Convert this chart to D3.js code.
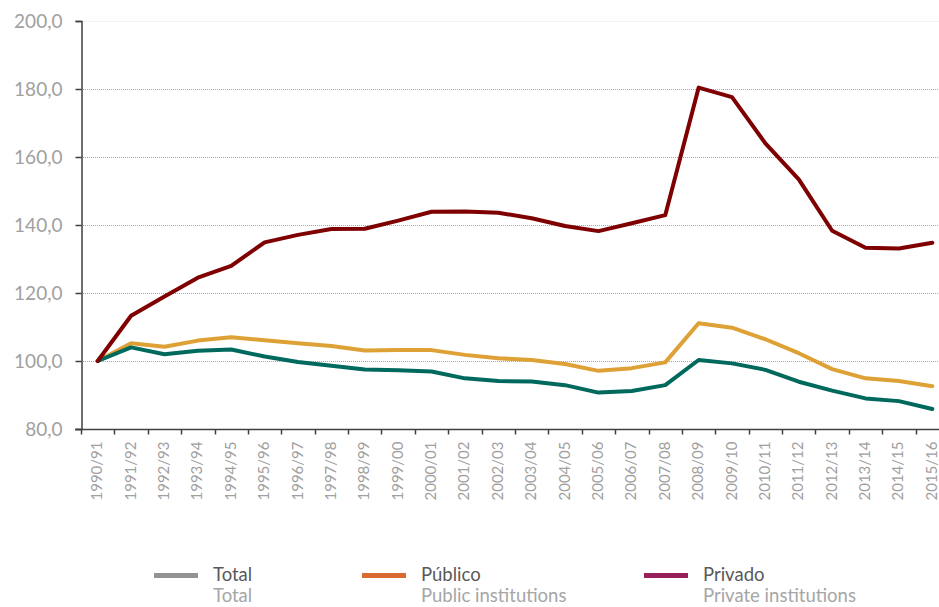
<!DOCTYPE html>
<html>
<head>
<meta charset="utf-8">
<script src="https://cdn.jsdelivr.net/npm/d3@7"></script>
<style>
  html, body { margin: 0; padding: 0; background: #fff; }
  svg { display: block; font-family: Lato, "Open Sans", sans-serif; }
</style>
</head>
<body>
<svg id="chart" width="939" height="607"></svg>
<script>
const categories = ["1990/91","1991/92","1992/93","1993/94","1994/95","1995/96","1996/97","1997/98","1998/99","1999/00","2000/01","2001/02","2002/03","2003/04","2004/05","2005/06","2006/07","2007/08","2008/09","2009/10","2010/11","2011/12","2012/13","2013/14","2014/15","2015/16"];
const totalValues   = [100.0,104.0,102.0,103.0,103.4,101.3,99.7,98.6,97.5,97.3,96.9,94.9,94.1,94.0,92.9,90.7,91.2,92.9,100.3,99.3,97.4,93.9,91.3,89.0,88.2,85.9];
const publicoValues = [100.0,105.2,104.2,106.0,107.0,106.1,105.2,104.4,103.1,103.2,103.2,101.8,100.8,100.3,99.1,97.1,97.9,99.6,111.1,109.8,106.4,102.3,97.6,94.9,94.1,92.6];
const privadoValues = [100.0,113.3,119.0,124.5,128.0,134.9,137.1,138.8,138.9,141.3,143.9,144.0,143.6,142.0,139.7,138.2,140.5,142.9,180.4,177.6,164.0,153.4,138.3,133.3,133.1,134.8];
const yTicks = [80,100,120,140,160,180,200];
const gridTicks = [100,120,140,160,180];

const legendItems = [
  {name: "Total",   sub: "Total",                swatch: "#939393"},
  {name: "Público", sub: "Public institutions",  swatch: "#d8692f"},
  {name: "Privado", sub: "Private institutions", swatch: "#98205a"}
];

const svg = d3.select("#chart");
const x = d3.scaleBand().domain(categories).range([81, 949]).paddingInner(0).paddingOuter(0);
const y = d3.scaleLinear().domain([80, 200]).range([429, 21]);
const fmt = v => d3.format(".1f")(v).replace(".", ",");

// gridlines
svg.append("g").selectAll("line").data(gridTicks).join("line")
  .attr("x1", 81).attr("x2", 939)
  .attr("y1", d => y(d) + 0.5).attr("y2", d => y(d) + 0.5)
  .attr("stroke", "#a6a6a6").attr("stroke-width", 1).attr("stroke-dasharray", "1,1");
svg.append("line").attr("x1", 81).attr("x2", 939).attr("y1", y(200) + 0.5).attr("y2", y(200) + 0.5)
  .attr("stroke", "#f2f2f2").attr("stroke-width", 1);

// y axis
const yAxis = svg.append("g").attr("transform", "translate(81.5,0)")
  .call(d3.axisLeft(y).tickValues(yTicks).tickFormat(fmt).tickSize(6).tickPadding(13));
yAxis.select(".domain").attr("stroke", "#404040").attr("stroke-width", 1.5);
yAxis.selectAll(".tick line").attr("stroke", "#404040").attr("stroke-width", 1.5);
yAxis.selectAll(".tick text").attr("fill", "#a0a0a0").attr("font-size", "19px").attr("font-family", "Lato, sans-serif");

// x axis
const xAxis = svg.append("g").attr("transform", "translate(0,429.5)")
  .call(d3.axisBottom(x).tickSize(0).tickFormat(d => d));
xAxis.select(".domain").attr("d", "M75,0H939").attr("stroke", "#404040").attr("stroke-width", 1.5);
xAxis.selectAll(".tick text")
  .attr("fill", "#a0a0a0").attr("font-size", "15px").attr("font-family", "Lato, sans-serif")
  .attr("transform", "rotate(-90)")
  .attr("text-anchor", "end").attr("x", -12).attr("y", 0).attr("dy", "0.3em");
// tick marks at band boundaries
svg.append("g").selectAll("line").data(categories).join("line")
  .attr("x1", d => Math.round(x(d)) + 0.5).attr("x2", d => Math.round(x(d)) + 0.5)
  .attr("y1", 429).attr("y2", 434.5)
  .attr("stroke", "#404040").attr("stroke-width", 1.5);

// lines
const cx = d => x(d) + x.bandwidth() / 2;
const line = d3.line().x((v, i) => cx(categories[i])).y(v => y(v));
const series = [
  {values: publicoValues, color: "#dea135"},
  {values: totalValues,   color: "#00695e"},
  {values: privadoValues, color: "#7f0000"}
];
svg.append("g").selectAll("path").data(series).join("path")
  .attr("d", d => line(d.values))
  .attr("fill", "none").attr("stroke", d => d.color).attr("stroke-width", 4)
  .attr("stroke-linejoin", "round").attr("stroke-linecap", "round");

// legend
const legendX = [154, 362, 644];
const lg = svg.append("g").selectAll("g").data(legendItems).join("g")
  .attr("transform", (d, i) => `translate(${legendX[i]},0)`);
lg.append("line").attr("x1", 0).attr("x2", 44).attr("y1", 575.5).attr("y2", 575.5)
  .attr("stroke", d => d.swatch).attr("stroke-width", 5);
lg.append("text").attr("x", 59).attr("y", 581).text(d => d.name)
  .attr("fill", "#595959").attr("font-size", "18.5px");
lg.append("text").attr("x", 59).attr("y", 602).text(d => d.sub)
  .attr("fill", "#a6a6a6").attr("font-size", "18.5px");
</script>
</body>
</html>
